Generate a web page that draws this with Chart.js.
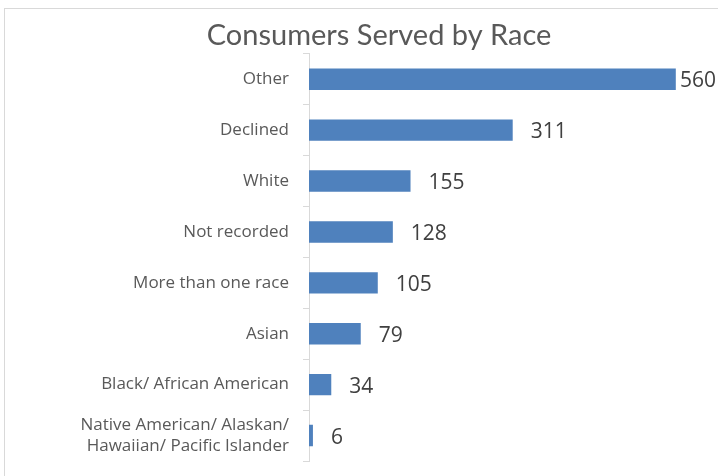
<!DOCTYPE html>
<html>
<head>
<meta charset="utf-8">
<script src="https://cdn.jsdelivr.net/npm/chart.js@4/dist/chart.umd.min.js"></script>
<style>
  html, body { margin: 0; padding: 0; background: #fff; overflow: hidden; }
  #frame {
    position: absolute; left: 4px; top: 8px;
    width: 748px; height: 470px;
    border: 1px solid #d9d9d9;
  }
  #myChart { display: block; }
</style>
</head>
<body>
<div id="frame"><canvas id="myChart" width="748" height="470"></canvas></div>
<script>
const categories = [
  'Other',
  'Declined',
  'White',
  'Not recorded',
  'More than one race',
  'Asian',
  'Black/ African American',
  ['Native American/ Alaskan/', 'Hawaiian/ Pacific Islander']
];
const consumers = [560, 311, 155, 128, 105, 79, 34, 6];

// value labels drawn just past the end of each bar
const valueLabels = {
  id: 'valueLabels',
  afterDatasetsDraw(chart) {
    const ctx = chart.ctx;
    const meta = chart.getDatasetMeta(0);
    ctx.save();
    ctx.font = '21px "Open Sans", sans-serif';
    ctx.fillStyle = '#404040';
    ctx.textBaseline = 'middle';
    ctx.textAlign = 'left';
    meta.data.forEach(function(bar, i) {
      const txt = String(consumers[i]);
      const w = ctx.measureText(txt).width;
      const x = Math.min(bar.x + 18, chart.width - 37 - w);
      ctx.fillText(txt, x, bar.y + 2);
    });
    ctx.restore();
  }
};

const ctx = document.getElementById('myChart').getContext('2d');

var chart = new Chart(ctx, {
  type: 'bar',
  data: {
    labels: categories,
    datasets: [{
      label: 'Consumers',
      data: consumers,
      backgroundColor: '#4f81bd',
      borderWidth: 0,
      categoryPercentage: 1,
      barPercentage: 0.42
    }]
  },
  options: {
    indexAxis: 'y',
    responsive: false,
    animation: false,
    layout: {
      padding: { left: 51, right: 51, top: 0, bottom: 18 }
    },
    plugins: {
      legend: { display: false },
      tooltip: { enabled: false },
      title: {
        display: true,
        text: 'Consumers Served by Race',
        color: '#595959',
        font: { family: 'Lato', size: 29, weight: 'normal' },
        padding: { top: 9, bottom: 1 }
      }
    },
    scales: {
      x: {
        display: false,
        min: 0,
        max: 600
      },
      y: {
        afterFit: function(scale) {
          scale.width = 253;
          // labels sit inside their slots, so no extra room above/below
          scale.paddingTop = 0;
          scale.paddingBottom = 0;
        },
        grid: {
          drawOnChartArea: false,
          drawTicks: true,
          tickLength: 6,
          color: '#d9d9d9'
        },
        border: { display: true, color: '#d9d9d9' },
        ticks: {
          color: '#595959',
          padding: 14,
          font: { family: 'Open Sans', size: 17 }
        }
      }
    }
  },
  plugins: [valueLabels]
});
</script>
</body>
</html>
